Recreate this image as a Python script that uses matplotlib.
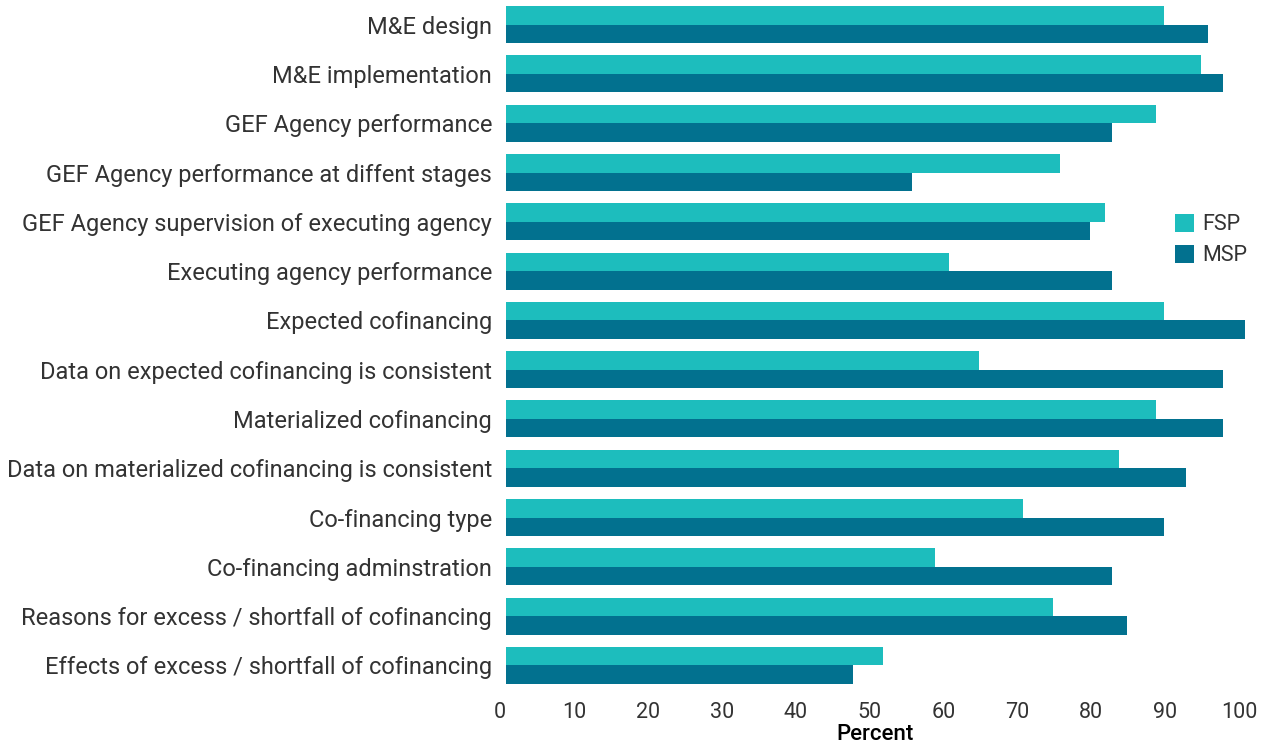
import matplotlib
matplotlib.use("Agg")
import matplotlib.pyplot as plt
import matplotlib.transforms as mtransforms
import numpy as np

plt.rcParams.update({
    "font.family": ["Roboto", "DejaVu Sans"],
    "text.color": "#333333",
    "xtick.color": "#333333",
    "ytick.color": "#333333",
})

categories = [
    "M&E design",
    "M&E implementation",
    "GEF Agency performance",
    "GEF Agency performance at diffent stages",
    "GEF Agency supervision of executing agency",
    "Executing agency performance",
    "Expected cofinancing",
    "Data on expected cofinancing is consistent",
    "Materialized cofinancing",
    "Data on materialized cofinancing is consistent",
    "Co-financing type",
    "Co-financing adminstration",
    "Reasons for excess / shortfall of cofinancing",
    "Effects of excess / shortfall of cofinancing",
]
fsp = [89, 94, 88, 75, 81, 60, 89, 64, 88, 83, 70, 58, 74, 51]
msp = [95, 97, 82, 55, 79, 82, 100, 97, 97, 92, 89, 82, 84, 47]
xticks = list(range(0, 101, 10))

FSP_COLOR = "#1dbdbd"
MSP_COLOR = "#02718f"

fig = plt.figure(figsize=(12.65, 7.44), dpi=100)
ax = fig.add_axes([506 / 1265, 1 - 690 / 744, 739 / 1265, 690 / 744])

y = np.arange(len(categories))
h = 0.375
ax.barh(y - h / 2, fsp, height=h, color=FSP_COLOR, label="FSP")
ax.barh(y + h / 2, msp, height=h, color=MSP_COLOR, label="MSP")

ax.set_ylim(len(categories) - 0.5, -0.5)
ax.set_xlim(0, 100)
ax.set_yticks(y)
ax.set_yticklabels(categories, fontsize=17)
ax.set_xticks(xticks)
ax.set_xticklabels([str(t) for t in xticks], fontsize=15.5)
ax.tick_params(axis="both", length=0)
ax.tick_params(axis="y", pad=10)
ax.tick_params(axis="x", pad=9)

# tick labels in the original sit a little left of the bar scale
shift = mtransforms.ScaledTranslation(-6 / 100, 0, fig.dpi_scale_trans)
for lab in ax.get_xticklabels():
    lab.set_transform(lab.get_transform() + shift)

for s in ax.spines.values():
    s.set_visible(False)

ax.set_xlabel("Percent", fontsize=16, fontweight="medium", labelpad=0)

fig.legend(loc="center left", bbox_to_anchor=(1166 / 1265, 1 - 240 / 744),
           frameon=False, fontsize=15.5, handlelength=0.9, handleheight=0.9,
           handletextpad=0.4, labelspacing=0.45, borderaxespad=0)

fig.savefig("out.png", dpi=100)
